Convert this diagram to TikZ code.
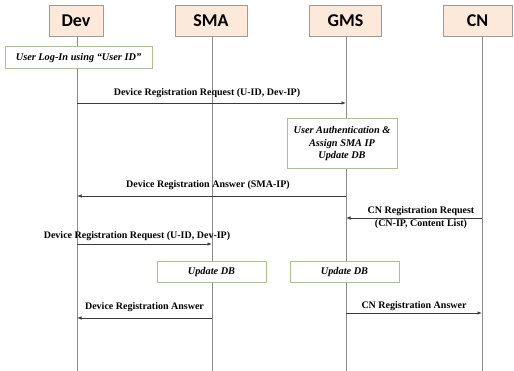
\documentclass[tikz,border=0pt]{standalone}
\usepackage{fontspec}
\setmainfont{Liberation Serif}
\newfontfamily\headfont{Carlito}
\usetikzlibrary{arrows.meta}
\definecolor{headfill}{HTML}{FDE9DA}
\definecolor{headline}{HTML}{9A9A9A}
\definecolor{noteline}{HTML}{A9C38A}
\definecolor{lifegray}{HTML}{8A8A8A}
\definecolor{msggray}{HTML}{3A3A3A}
\tikzset{
  actor/.style={draw=headline, line width=0.8pt, fill=headfill, minimum height=31pt,
    inner sep=0pt, font=\headfont\fontsize{18}{21}\selectfont\bfseries},
  note/.style={draw=noteline, line width=1pt, fill=white, inner sep=0pt, align=center,
    font=\fontsize{10.3}{12.5}\selectfont\bfseries\itshape},
  lifeline/.style={draw=lifegray, line width=0.9pt},
  msg/.style={draw=msggray, line width=0.8pt, -{Latex[length=4.5pt,width=3.5pt]}},
  msglabel/.style={inner sep=0pt, font=\fontsize{10}{12}\selectfont\bfseries}
}
\begin{document}
\begin{tikzpicture}[x=1pt, y=-1pt]
\useasboundingbox (0,0) rectangle (514,371);
\clip (0,0) rectangle (514,371);

% lifelines
\coordinate (devtop) at (77,36);   \coordinate (devbot) at (77,371);
\coordinate (smatop) at (212,36);  \coordinate (smabot) at (212,371);
\coordinate (gmstop) at (346,36);  \coordinate (gmsbot) at (346,371);
\coordinate (cntop)  at (482,36);  \coordinate (cnbot)  at (482,371);
\draw[lifeline] (devtop) -- (devbot);
\draw[lifeline] (smatop) -- (smabot);
\draw[lifeline] (gmstop) -- (gmsbot);
\draw[lifeline] (cntop) -- (cnbot);

% participants
\node[actor, minimum width=54pt] (dev) at (76,20.5) {Dev};
\node[actor, minimum width=72pt] (sma) at (211,20.5) {SMA};
\node[actor, minimum width=72pt] (gms) at (345.5,20.5) {GMS};
\node[actor, minimum width=69pt] (cn)  at (477.5,20.5) {CN};

% local actions
\node[note, minimum width=147pt, minimum height=22pt] (login) at (78.5,58)
  {User Log-In using “User ID”};
\node[note, minimum width=110pt, minimum height=50pt] (auth) at (342,144)
  {User Authentication \&\\Assign SMA IP\\Update DB};
\node[note, minimum width=109pt, minimum height=21pt] (smaupd) at (211.5,272.5) {Update DB};
\node[note, minimum width=109pt, minimum height=21pt] (gmsupd) at (344.5,272.5) {Update DB};

% message end points
\coordinate (m1a) at (77,103);  \coordinate (m1b) at (346,103);
\coordinate (m2a) at (346,196); \coordinate (m2b) at (77,196);
\coordinate (m3a) at (482,218); \coordinate (m3b) at (346,218);
\coordinate (m4a) at (77,244);  \coordinate (m4b) at (212,244);
\coordinate (m5a) at (212,318); \coordinate (m5b) at (77,318);
\coordinate (m6a) at (346,313); \coordinate (m6b) at (482,313);

% messages
\draw[msg] (m1a) -- (m1b);
\draw[msg] (m2a) -- (m2b);
\draw[msg] (m3a) -- (m3b);
\draw[msg] (m4a) -- (m4b);
\draw[msg] (m5a) -- (m5b);
\draw[msg] (m6a) -- (m6b);

% message labels
\node[msglabel] (l1) at (207,93) {Device Registration Request (U-ID, Dev-IP)};
\node[msglabel] (l2) at (208,185) {Device Registration Answer (SMA-IP)};
\node[msglabel] (l3a) at (421,211) {CN Registration Request};
\node[msglabel] (l3b) at (421,224.5) {(CN-IP, Content List)};
\node[msglabel] (l4) at (137,236) {Device Registration Request (U-ID, Dev-IP)};
\node[msglabel] (l5) at (144.5,307) {Device Registration Answer};
\node[msglabel] (l6) at (414,306.5) {CN Registration Answer};
\end{tikzpicture}
\end{document}
